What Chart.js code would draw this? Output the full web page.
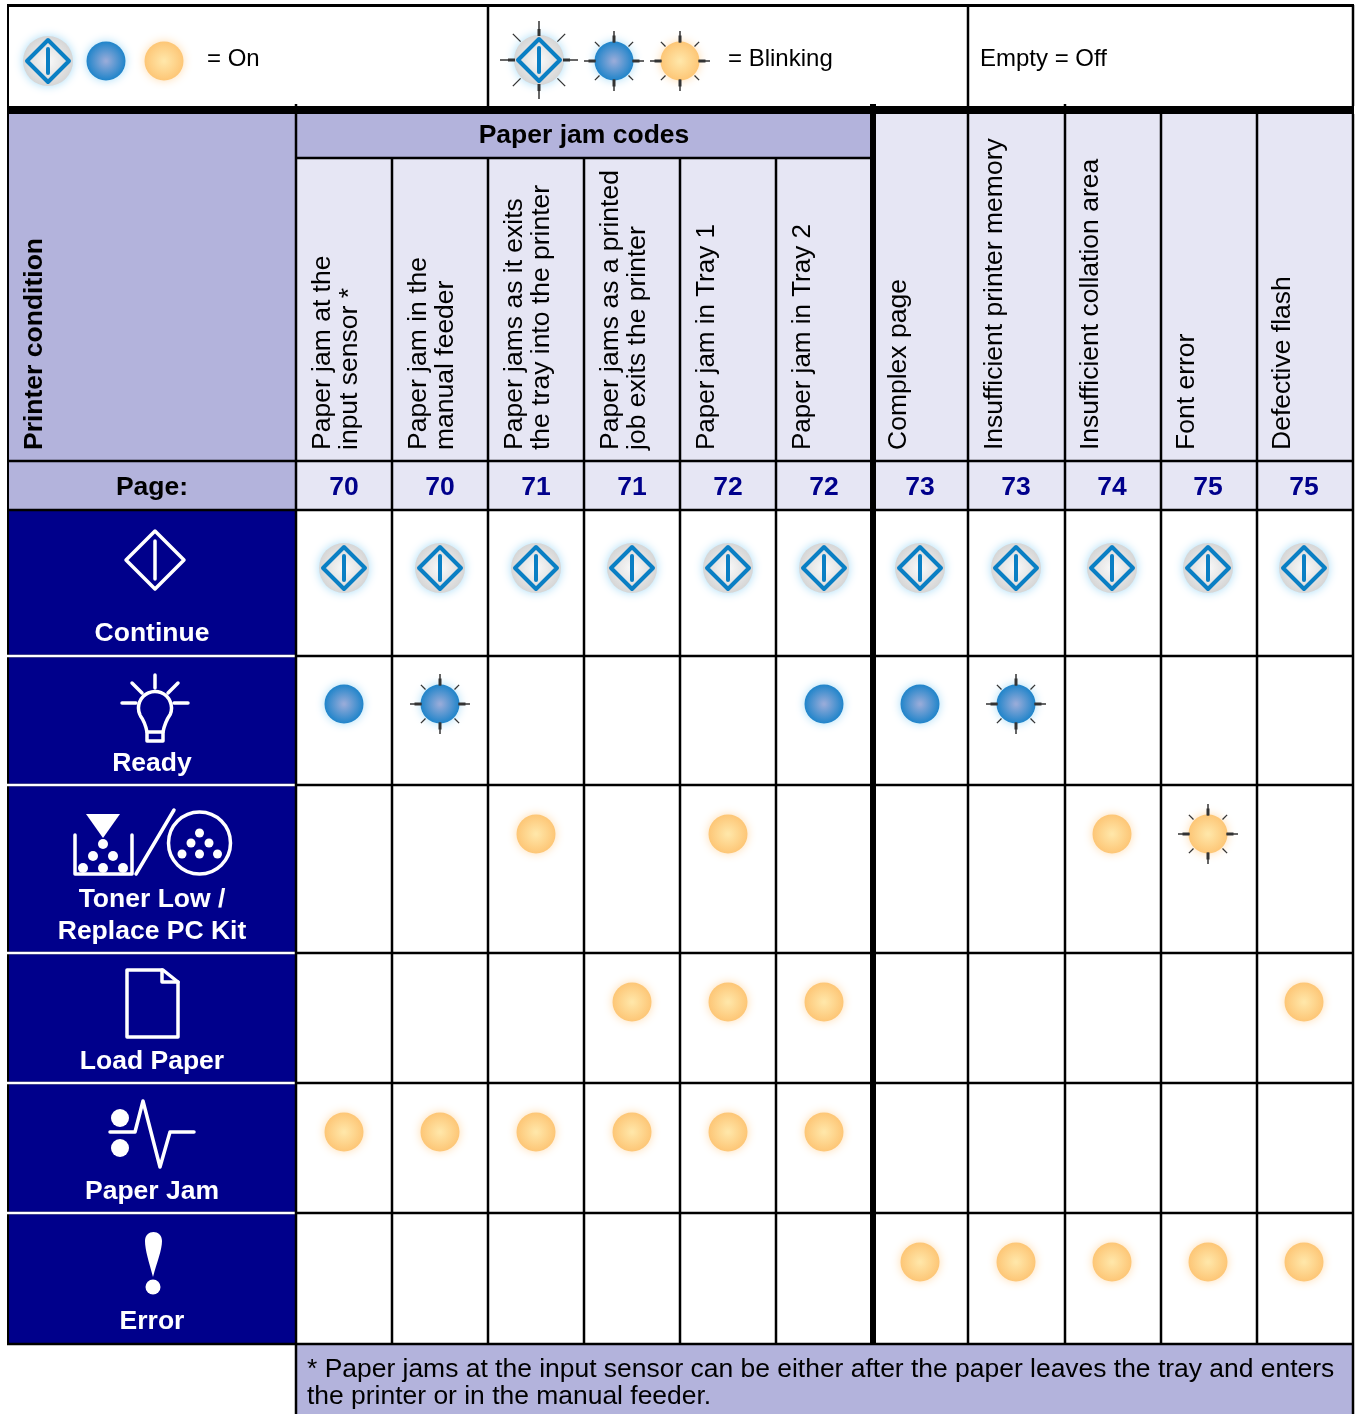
<!DOCTYPE html>
<html>
<head>
<meta charset="utf-8">
<style>
html,body{margin:0;padding:0;background:#fff;}
canvas{display:block;}
</style>
<script src="https://cdn.jsdelivr.net/npm/chart.js@4/dist/chart.umd.js"></script>
</head>
<body>
<canvas id="myChart" width="1359" height="1414"></canvas>
<script>
// table content
var conditions = ["Paper jam at the|input sensor *", "Paper jam in the|manual feeder", "Paper jams as it exits|the tray into the printer", "Paper jams as a printed|job exits the printer", "Paper jam in Tray 1", "Paper jam in Tray 2", "Complex page", "Insufficient printer memory", "Insufficient collation area", "Font error", "Defective flash"];
var pages = ["70", "70", "71", "71", "72", "72", "73", "73", "74", "75", "75"];
var lights = ["Continue", "Ready", "Toner Low /|Replace PC Kit", "Load Paper", "Paper Jam", "Error"];

// 0 = off, 1 = on, 2 = blinking
var continueStates = [1, 1, 1, 1, 1, 1, 1, 1, 1, 1, 1];
var readyStates = [1, 2, 0, 0, 0, 1, 1, 2, 0, 0, 0];
var tonerStates = [0, 0, 1, 0, 1, 0, 0, 0, 1, 2, 0];
var loadStates = [0, 0, 0, 1, 1, 1, 0, 0, 0, 0, 1];
var jamStates = [1, 1, 1, 1, 1, 1, 0, 0, 0, 0, 0];
var errorStates = [0, 0, 0, 0, 0, 0, 1, 1, 1, 1, 1];

// layout
var W = 1359, H = 1414;
var colLines = [296, 392, 488, 584, 680, 776, 873, 968, 1065, 1161, 1257, 1353];
var rowLines = [510, 656, 785, 953, 1083, 1213, 1344];
var rowLedY = [568, 704, 834, 1002, 1132, 1262];
var FONT = '"Liberation Sans", Arial, sans-serif';
var NAVY = "#00008b", LAV = "#b3b3dc", PALE = "#e6e6f4", BLUE = "#0a7fc4";
var TXT = 26.5;

function makeLed(kind, blink){
  var c = document.createElement("canvas");
  c.width = 100; c.height = 100;
  var g = c.getContext("2d");
  var m = 50, r = kind == "continue" ? 25 : 19.5;
  var gr = g.createRadialGradient(m, m, 1, m, m, r);
  if(kind == "blue"){
    gr.addColorStop(0, "#96abd9"); gr.addColorStop(1, "#1f84ca");
    g.shadowColor = "#a8dcf7";
  }else if(kind == "amber"){
    gr.addColorStop(0, "#ffe6a8"); gr.addColorStop(1, "#fdc676");
    g.shadowColor = "#fedcae";
  }else{
    gr.addColorStop(0, "#f8f8f8"); gr.addColorStop(1, "#d6d6d6");
    g.shadowColor = "#a8dcf7";
  }
  g.shadowBlur = 10;
  g.fillStyle = gr;
  g.beginPath(); g.arc(m, m, r, 0, Math.PI * 2); g.fill();
  g.shadowBlur = 0; g.shadowColor = "transparent";
  if(kind == "continue"){
    g.strokeStyle = BLUE; g.lineWidth = 4; g.lineJoin = "round";
    g.beginPath(); g.moveTo(m - 21, m); g.lineTo(m, m - 21); g.lineTo(m + 21, m); g.lineTo(m, m + 21); g.closePath(); g.stroke();
    g.lineCap = "round";
    g.beginPath(); g.moveTo(m, m - 12); g.lineTo(m, m + 12); g.stroke();
    g.lineCap = "butt";
  }
  if(blink){
    var out = kind == "continue" ? 39 : 30;
    var dOut = kind == "continue" ? 37 : 27;
    g.strokeStyle = "#333";
    for(var i = 0; i < 8; i++){
      var a = i * Math.PI / 4, cs = Math.cos(a), sn = Math.sin(a);
      if(i % 2 == 0){
        g.lineWidth = 1.5;
        g.beginPath(); g.moveTo(m + cs * (r - 1), m + sn * (r - 1)); g.lineTo(m + cs * out, m + sn * out); g.stroke();
        g.lineWidth = 3;
        g.beginPath(); g.moveTo(m + cs * (r - 1), m + sn * (r - 1)); g.lineTo(m + cs * (r + 6), m + sn * (r + 6)); g.stroke();
      }else{
        g.lineWidth = 1.3;
        g.beginPath(); g.moveTo(m + cs * (r + 1), m + sn * (r + 1)); g.lineTo(m + cs * dOut, m + sn * dOut); g.stroke();
      }
    }
  }
  return c;
}

var leds = {
  continue1: makeLed("continue", false), continue2: makeLed("continue", true),
  blue1: makeLed("blue", false), blue2: makeLed("blue", true),
  amber1: makeLed("amber", false), amber2: makeLed("amber", true)
};

// points for one row of states
function points(states, row, state){
  var out = [];
  states.forEach(function(s, i){
    if(s == state) out.push({x: conditions[i], y: row});
  });
  return out;
}
function ledSet(states, row, state, img){
  return {data: points(states, row, state), pointStyle: img, pointRadius: 10, clip: false};
}

// rows are not the same height so map the row number to its own line
class RowScale extends Chart.LinearScale {
  getPixelForValue(v){
    return rowLedY[Math.round(v)];
  }
}
RowScale.id = "rowScale";
RowScale.defaults = Chart.LinearScale.defaults;
Chart.register(RowScale);

function line(c, x1, y1, x2, y2, w, col){
  c.strokeStyle = col || "#000";
  c.lineWidth = w;
  c.beginPath(); c.moveTo(x1, y1); c.lineTo(x2, y2); c.stroke();
}
function poly(c, pts){
  c.beginPath();
  pts.forEach(function(p, i){ if(i == 0) c.moveTo(p[0], p[1]); else c.lineTo(p[0], p[1]); });
}
function dot(c, x, y, r){
  c.beginPath(); c.arc(x, y, r, 0, Math.PI * 2); c.fill();
}
function label(c, t, x, y, size, bold, col, align){
  c.font = (bold ? "bold " : "") + size + "px " + FONT;
  c.fillStyle = col || "#000";
  c.textAlign = align || "center";
  c.textBaseline = "alphabetic";
  c.fillText(t, x, y);
}
function upText(c, t, x, y, size, bold){
  c.save();
  c.translate(x, y);
  c.rotate(-Math.PI / 2);
  label(c, t, 0, 0, size, bold, "#000", "left");
  c.restore();
}
function stamp(c, img, x, y){
  c.drawImage(img, x - img.width / 2, y - img.height / 2);
}

function drawIcons(c){
  c.strokeStyle = "#fff"; c.fillStyle = "#fff"; c.lineWidth = 3.5;
  c.lineJoin = "round"; c.lineCap = "round";
  // continue
  poly(c, [[155, 531], [184, 560], [155, 589], [126, 560]]); c.closePath(); c.stroke();
  poly(c, [[155, 541], [155, 579]]); c.stroke();
  // ready
  poly(c, [[155, 675], [155, 688]]); c.stroke();
  poly(c, [[132, 683], [142, 693]]); c.stroke();
  poly(c, [[178, 683], [168, 693]]); c.stroke();
  poly(c, [[122, 703], [136, 703]]); c.stroke();
  poly(c, [[174, 703], [188, 703]]); c.stroke();
  c.beginPath();
  c.arc(155, 708, 16.5, Math.PI * 0.87, Math.PI * 0.13, false);
  c.quadraticCurveTo(165, 722, 163, 732);
  c.lineTo(147, 732);
  c.quadraticCurveTo(145, 722, 140.5, 716);
  c.stroke();
  poly(c, [[147, 732], [147, 741], [163, 741], [163, 732]]); c.stroke();
  // toner / pc kit
  poly(c, [[86, 814], [120, 814], [103, 838]]); c.closePath(); c.fill();
  poly(c, [[75, 835], [75, 874], [132, 874], [132, 835]]); c.stroke();
  dot(c, 103, 844, 5); dot(c, 93, 856, 5); dot(c, 113, 856, 5);
  dot(c, 83, 868, 5); dot(c, 103, 868, 5); dot(c, 123, 868, 5);
  poly(c, [[136, 874], [174, 810]]); c.stroke();
  c.beginPath(); c.arc(199.5, 843, 31, 0, Math.PI * 2); c.stroke();
  dot(c, 199.5, 833, 4.5); dot(c, 191, 843, 4.5); dot(c, 209, 843, 4.5);
  dot(c, 182, 854, 4.5); dot(c, 199.5, 854, 4.5); dot(c, 217.5, 854, 4.5);
  // load paper
  poly(c, [[127, 970], [163, 970], [178, 982], [178, 1037], [127, 1037]]); c.closePath(); c.stroke();
  poly(c, [[162, 970], [162, 982], [178, 982]]); c.stroke();
  // paper jam
  dot(c, 120, 1118, 9); dot(c, 120, 1148, 9);
  poly(c, [[110, 1132], [135, 1132], [143, 1101], [160, 1167], [170, 1132], [194, 1132]]); c.stroke();
  // error
  c.beginPath();
  c.moveTo(153, 1277);
  c.bezierCurveTo(149, 1262, 145, 1250, 145, 1241);
  c.bezierCurveTo(145, 1229, 162, 1229, 162, 1241);
  c.bezierCurveTo(162, 1250, 157, 1262, 153, 1277);
  c.fill();
  dot(c, 153, 1287, 7.5);
  c.lineCap = "butt"; c.lineJoin = "miter";
}

var tablePlugin = {
  id: "table",
  beforeDatasetsDraw: function(chart){
    var c = chart.ctx;
    c.save();
    c.fillStyle = "#fff"; c.fillRect(0, 0, W, H);
    // fills
    c.fillStyle = LAV; c.fillRect(8, 113, 288, 397);
    c.fillStyle = LAV; c.fillRect(296, 113, 575, 45);
    c.fillStyle = LAV; c.fillRect(296, 1344, 1058, 70);
    c.fillStyle = PALE; c.fillRect(296, 158, 575, 303);
    c.fillStyle = PALE; c.fillRect(873, 113, 481, 348);
    c.fillStyle = LAV; c.fillRect(8, 461, 288, 49);
    c.fillStyle = PALE; c.fillRect(296, 461, 1058, 49);
    c.fillStyle = NAVY; c.fillRect(8, 510, 288, 834);

    // horizontal lines
    line(c, 7, 5.5, 1354, 5.5, 3);
    c.fillStyle = "#000"; c.fillRect(7, 106, 1347, 8);
    line(c, 296, 158, 871, 158, 2.5);
    line(c, 7, 461, 1354, 461, 2.5);
    // vertical lines
    line(c, 8, 5, 8, 1345, 2);
    rowLines.forEach(function(y, i){
      line(c, 7, y, 1354, y, 2.5);
      if(i > 0 && i < rowLines.length - 1) line(c, 7, y, 296, y, 2.5, "#fff");
    });
    colLines.forEach(function(x, i){
      if(x == 873){ c.fillStyle = "#000"; c.fillRect(870, 104, 6, 1240); return; }
      var top = i < 1 ? 104 : 158;
      if(i > 6) top = 114;
      if(i == 8) top = 104;
      line(c, x, top, x, i == 0 || i == 11 ? 1414 : 1344, 2.5);
    });
    // legend cell dividers
    line(c, 488, 5, 488, 106, 2.5);
    line(c, 968, 5, 968, 106, 2.5);
    line(c, 1353, 5, 1353, 106, 2.5);

    // legend
    stamp(c, leds.continue1, 48, 61);
    stamp(c, leds.blue1, 106, 61);
    stamp(c, leds.amber1, 164, 61);
    label(c, "= On", 207, 66, 24, false, "#000", "left");
    stamp(c, leds.continue2, 539, 60);
    stamp(c, leds.blue2, 614, 61);
    stamp(c, leds.amber2, 680, 61);
    label(c, "= Blinking", 728, 66, 24, false, "#000", "left");
    label(c, "Empty = Off", 980, 66, 24, false, "#000", "left");

    // headers
    label(c, "Paper jam codes", 584, 143, TXT, true);
    upText(c, "Printer condition", 41.5, 450, TXT, true);
    label(c, "Page:", 152, 495, TXT, true);
    var xs = chart.scales.x;
    conditions.forEach(function(t, i){
      var px = xs.getPixelForValue(i);
      var parts = t.split("|");
      // Tray labels run a bit short in the original
      var size = t.indexOf("Tray") >= 0 ? 26 : TXT;
      upText(c, parts[0], px - 14.5, 450, size);
      if(parts.length == 2) upText(c, parts[1], px + 12.5, 450, size);
      label(c, pages[i], px, 495, TXT, true, NAVY);
    });

    // light names
    drawIcons(c);
    label(c, lights[0], 152, 641, TXT, true, "#fff");
    label(c, lights[1], 152, 771, TXT, true, "#fff");
    var p = lights[2].split("|");
    label(c, p[0], 152, 907, TXT, true, "#fff");
    label(c, p[1], 152, 939, TXT, true, "#fff");
    label(c, lights[3], 152, 1069, TXT, true, "#fff");
    label(c, lights[4], 152, 1199, TXT, true, "#fff");
    label(c, lights[5], 152, 1329, TXT, true, "#fff");

    // footnote
    label(c, "* Paper jams at the input sensor can be either after the paper leaves the tray and enters", 307, 1377, 26.45, false, "#000", "left");
    label(c, "the printer or in the manual feeder.", 307, 1404, 26.45, false, "#000", "left");
    c.restore();
  }
};

var datasets = [
  ledSet(continueStates, 0, 1, leds.continue1),
  ledSet(readyStates, 1, 1, leds.blue1),
  ledSet(readyStates, 1, 2, leds.blue2)
];
[tonerStates, loadStates, jamStates, errorStates].forEach(function(states, i){
  datasets.push(ledSet(states, i + 2, 1, leds.amber1));
  datasets.push(ledSet(states, i + 2, 2, leds.amber2));
});

var ctx = document.getElementById("myChart");
var myChart = new Chart(ctx, {
  type: "scatter",
  data: {labels: conditions, datasets: datasets},
  plugins: [tablePlugin],
  options: {
    responsive: false,
    animation: false,
    events: [],
    // chart area is the part of the table that holds the lights
    layout: {autoPadding: false, padding: {left: 296, right: 7}},
    plugins: {legend: {display: false}, tooltip: {enabled: false}},
    scales: {
      x: {type: "category", labels: conditions, offset: true, display: false},
      y: {type: "rowScale", display: false, min: 0, max: 5}
    }
  }
});
</script>
</body>
</html>
